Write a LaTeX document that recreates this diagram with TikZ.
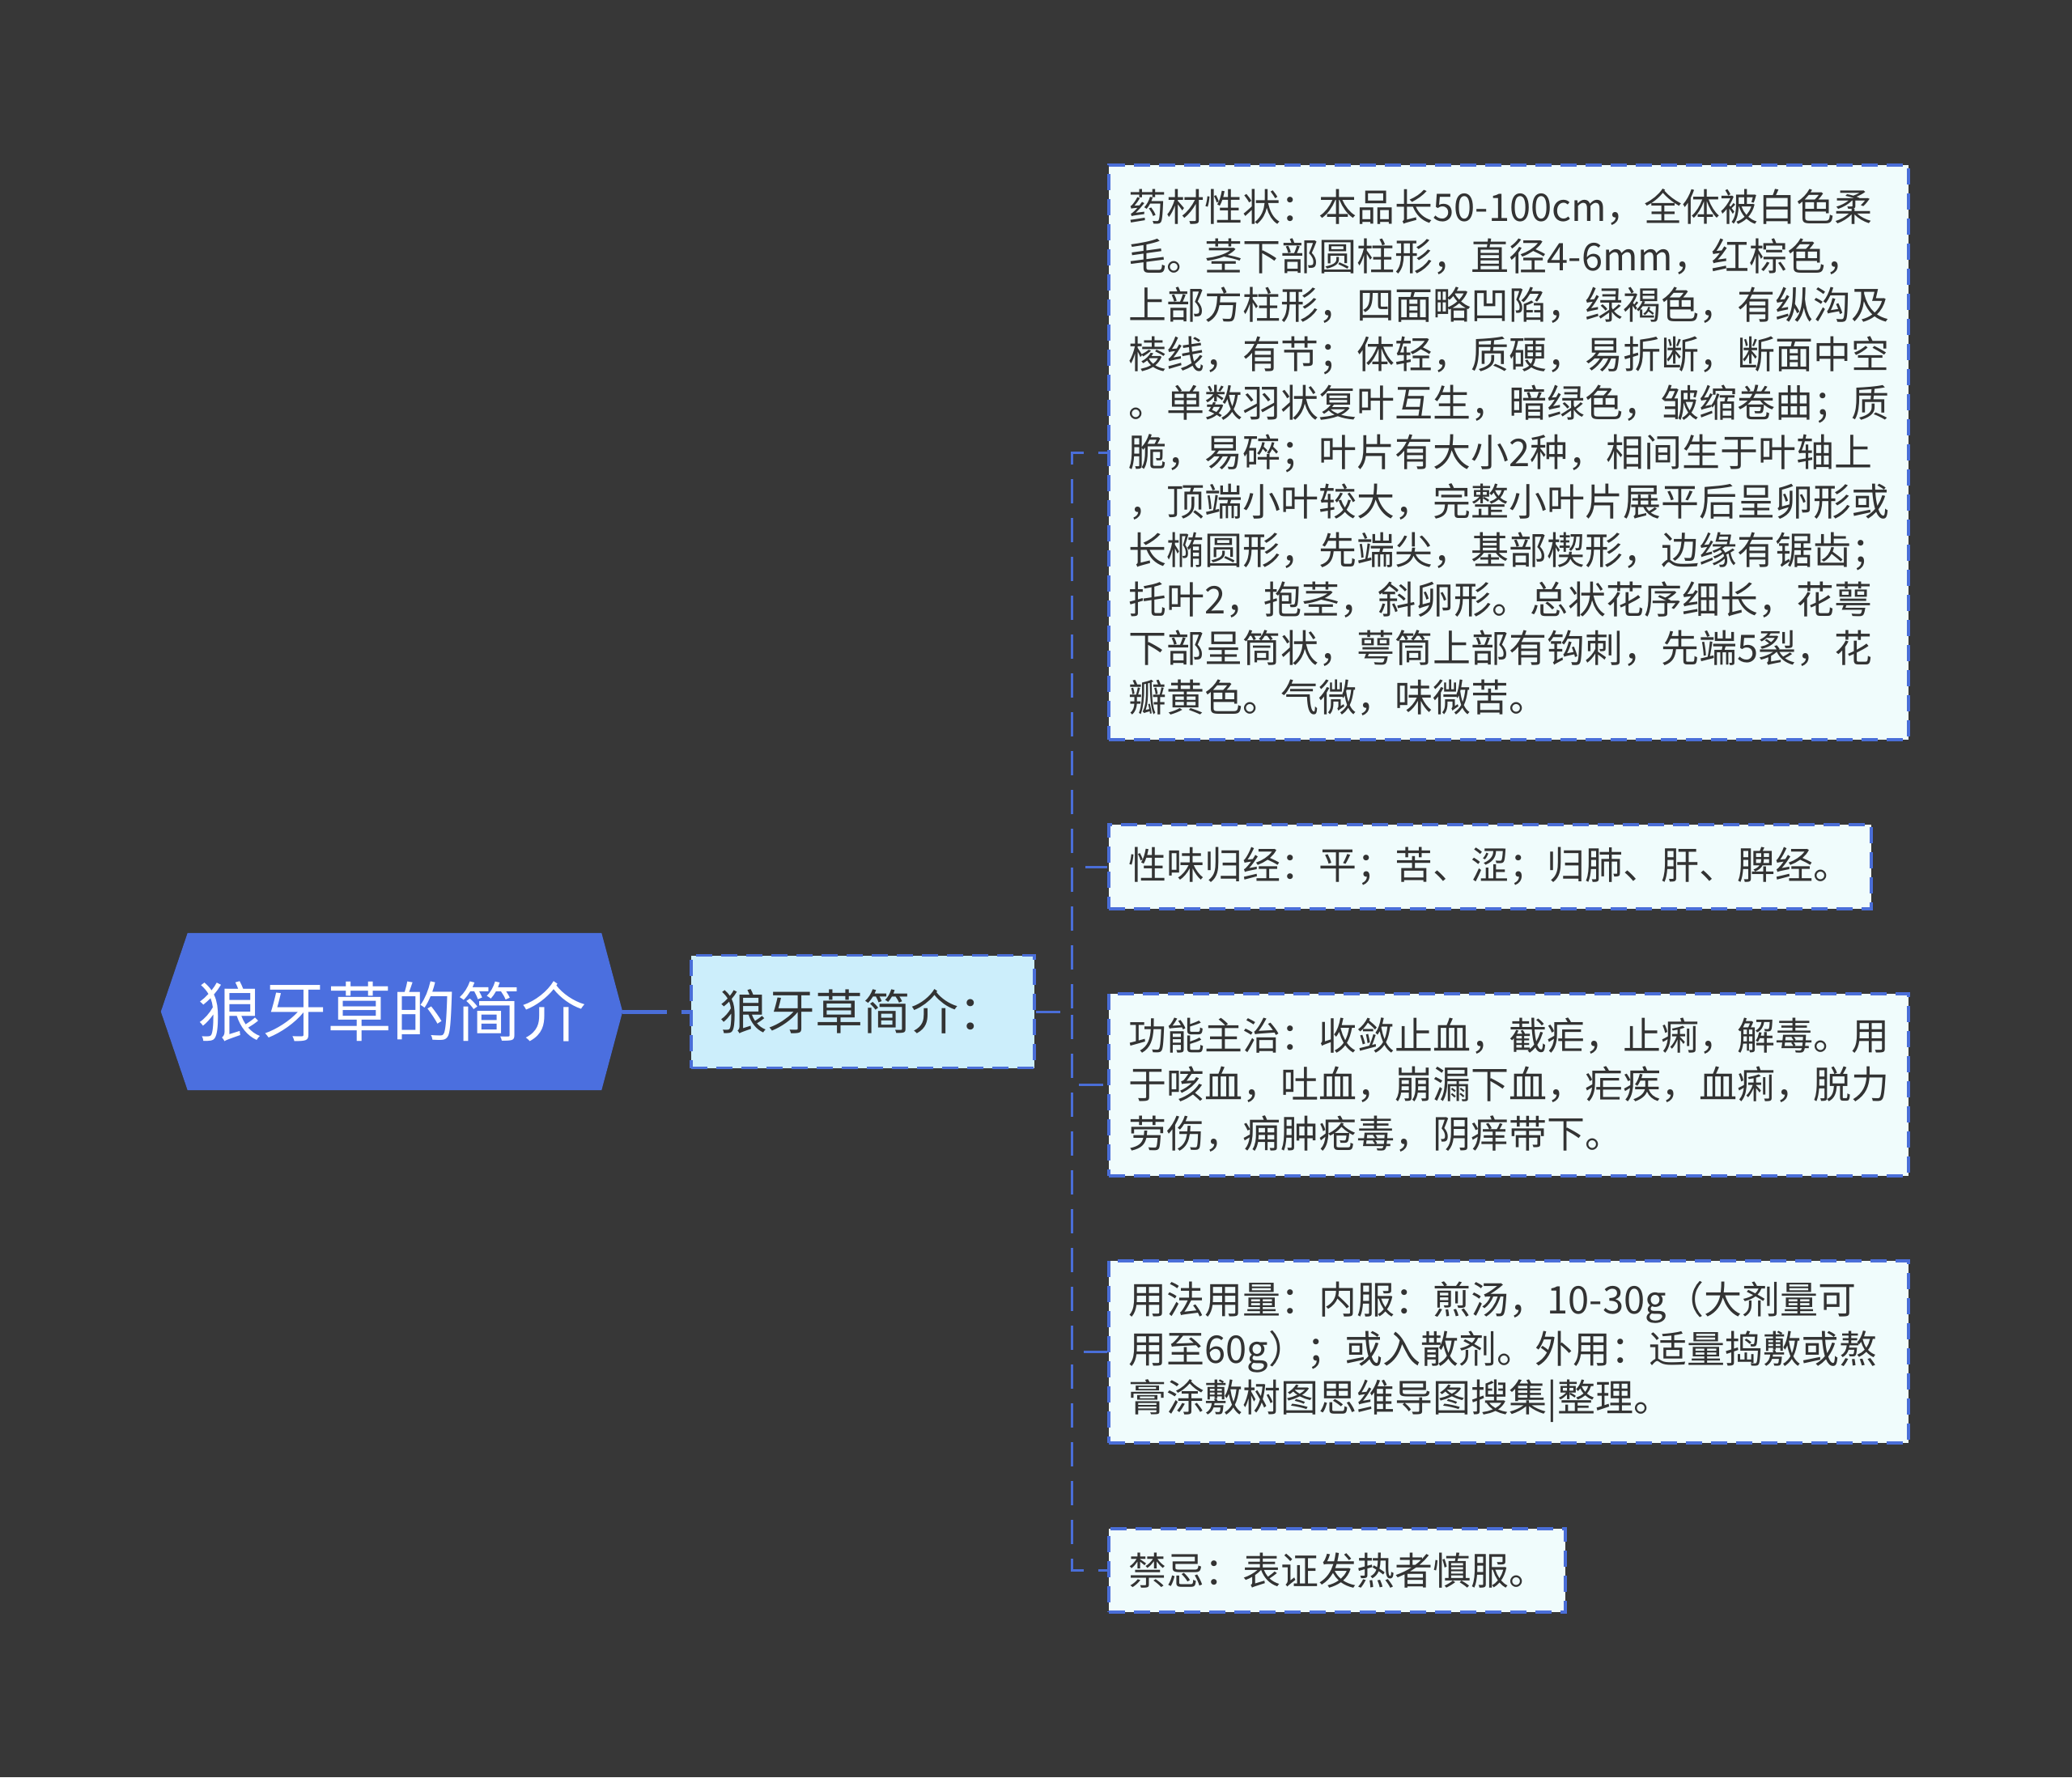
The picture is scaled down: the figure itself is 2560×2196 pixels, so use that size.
\documentclass[tikz,border=0pt]{standalone}
\usepackage{fontspec}
\setmainfont{Noto Sans CJK SC}
\usetikzlibrary{calc,backgrounds}
\definecolor{bgc}{HTML}{373737}
\definecolor{rootblue}{HTML}{4B6FDF}
\definecolor{subfill}{HTML}{CCEEFB}
\definecolor{leaffill}{HTML}{F0FCFC}
\definecolor{edgeblue}{HTML}{4A6ED8}
\definecolor{txt}{HTML}{333333}
\tikzset{
  rootnode/.style={rectangle, inner sep=0pt, minimum width=570pt, minimum height=194pt,
    text=white, font=\fontsize{80}{96}\selectfont},
  subnode/.style={rectangle, fill=subfill, draw=edgeblue, line width=3.5pt,
    dash pattern=on 20pt off 11pt, inner sep=0pt, minimum width=424pt, minimum height=139pt,
    text=txt, font=\fontsize{59}{72}\selectfont},
  leafnode/.style={rectangle, fill=leaffill, draw=edgeblue, line width=3.5pt,
    dash pattern=on 20pt off 11pt, inner xsep=25pt, inner ysep=0pt, anchor=west,
    align=left, text=txt, font=\fontsize{47}{60.6}\selectfont},
  rootlink/.style={draw=edgeblue, line width=5pt, dash pattern=on 55pt off 18pt},
  conn/.style={draw=edgeblue, line width=3pt, dash pattern=on 30pt off 18pt},
}
\begin{document}
\begin{tikzpicture}[x=1pt,y=-1pt]
\useasboundingbox (0,0) rectangle (2560,2196);
\node[rootnode] (root) at (484,1250) {狼牙草的简介};
\begin{scope}[on background layer]
  \fill[bgc] (0,0) rectangle (2560,2196);
  \fill[rootblue] (root.west) -- ($(root.north west)+(33,0)$) -- ($(root.north east)+(-26,0)$)
    -- (root.east) -- ($(root.south east)+(-26,0)$) -- ($(root.south west)+(33,0)$) -- cycle;
\end{scope}
\node[subnode] (sub) at (1066,1250) {狼牙草简介：};
\draw[rootlink] (root.east) -- (sub.west);

\node[leafnode, minimum width=988pt, minimum height=710pt, text width=938pt] (c1) at (1368,559) {药材性状：本品长50-100cm，全体被白色柔\\
毛。茎下部圆柱形，直径4-6mm，红棕色，\\
上部方柱形，四面略凹陷，绿褐色，有纵沟及\\
棱线，有节；体轻，质硬，易折断，断面中空\\
。单数羽状复叶互生，暗绿色，皱缩卷曲；质\\
脆，易碎；叶片有大小2种，相间生于叶轴上\\
，顶端小叶较大，完整小叶片展平后呈卵形或\\
长椭圆形，先端尖，基部楔形，边缘有锯齿；\\
托叶2，抱茎，斜卵形。总状花序细长，花萼\\
下部呈筒状，萼筒上部有钩刺，先端5裂，花\\
瓣黄色。气微，味微苦。};
\node[leafnode, minimum width=942pt, minimum height=104pt, text width=892pt] (c2) at (1368,1071) {性味归经：平；苦、涩；归肺、肝、脾经。};
\node[leafnode, minimum width=988pt, minimum height=225pt, text width=938pt] (c3) at (1368,1340.5) {功能主治：收敛止血，截疟，止痢，解毒。用\\
于咳血，吐血，崩漏下血，疟疾，血痢，脱力\\
劳伤，痈肿疮毒，阴痒带下。};
\node[leafnode, minimum width=988pt, minimum height=225pt, text width=938pt] (c4) at (1368,1670.5) {用法用量：内服：煎汤，10-30g（大剂量可\\
用至60g）；或入散剂。外用：适量捣敷或熬\\
膏涂敷树图思维导图搜集|整理。};
\node[leafnode, minimum width=564pt, minimum height=103pt, text width=514pt] (c5) at (1368,1940.5) {禁忌：表证发热者慎服。};

\coordinate (j) at (1324,1250);
\foreach \c in {c1,c2,c3,c4,c5}{
  \draw[conn] (sub.east) -- (j) |- (\c.west);
}
\end{tikzpicture}
\end{document}
